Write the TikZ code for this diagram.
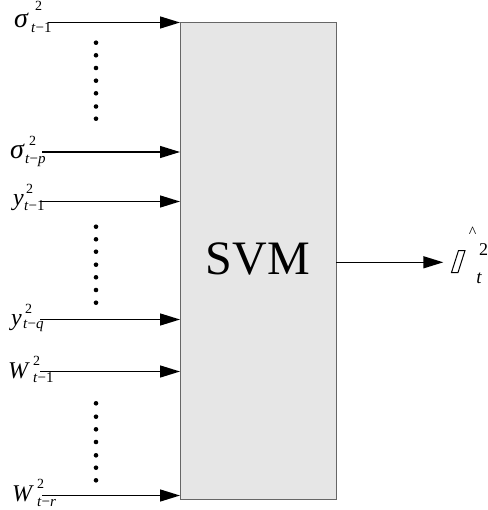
\documentclass[tikz,border=0pt]{standalone}
\usepackage{fontspec}
\setmainfont{Liberation Serif}
\usetikzlibrary{arrows.meta}
\definecolor{boxfill}{HTML}{E6E6E6}
\definecolor{boxline}{HTML}{666666}
% \lblx{main}{size}{sup offset}{sup raise}{sub offset}{sub lower}{sub}
\newcommand\lblx[7]{%
  \rlap{\fontsize{#2}{#2}\selectfont\itshape #1}%
  \rlap{\kern#3pt\raisebox{#4pt}{\fontsize{14}{14}\selectfont 2}}%
  \kern#5pt\raisebox{-#6pt}{\fontsize{15}{15}\selectfont #7}}
\tikzset{
  arr/.style={line width=1.4pt, -{Triangle[length=20pt,width=12pt]}},
  lbl/.style={anchor=base west, inner sep=0pt},
  dotmark/.style={circle, fill=black, inner sep=0pt, minimum size=4.6pt},
  svmbox/.style={draw=boxline, fill=boxfill, line width=1pt, inner sep=0pt},
  small/.style={inner sep=0pt, font=\fontsize{15}{15}\selectfont}
}
\begin{document}
\begin{tikzpicture}[x=1pt,y=-1pt]
\useasboundingbox (0,0) rectangle (487,510);
% SVM box
\node[svmbox, minimum width=156pt, minimum height=477pt, anchor=north west] (svm) at (180,22) {};
\node[inner sep=0pt, font=\fontsize{48}{48}\selectfont] (svmtext) at (258,259) {SVM};
% input labels
\node[lbl] (l1) at (14,28) {\lblx{σ}{28}{21}{17}{17}{4.5}{\textit{t}−1}};
\node[lbl] (l2) at (10,159) {\lblx{σ}{28}{19}{13}{15}{4.5}{\textit{t}−\textit{p}}};
\node[lbl] (l3) at (13,206) {\lblx{y}{24}{13}{12}{11}{5}{\textit{t}−1}};
\node[lbl] (l4) at (11,325) {\lblx{y}{24}{14}{11.5}{12}{3}{\textit{t}−\textit{q}}};
\node[lbl] (l5) at (8,378) {\lblx{W}{24}{25}{13}{25}{4.5}{\textit{t}−1}};
\node[lbl] (l6) at (12,501.5) {\lblx{W}{24}{25}{13}{25}{4.5}{\textit{t}−\textit{r}}};
% arrow starts
\coordinate (s1) at (48,22.5);
\coordinate (s2) at (42,152);
\coordinate (s3) at (40,201.5);
\coordinate (s4) at (40,319.5);
\coordinate (s5) at (40,371.5);
\coordinate (s6) at (42,495.5);
\foreach \s in {s1,s2,s3,s4,s5,s6}
  \draw[arr] (\s) -- (\s -| svm.west);
% dots
\foreach \y [count=\i] in {42.7,55.3,68,80.7,93.3,106.5,118.7}
  \node[dotmark] (da\i) at (96,\y) {};
\foreach \y [count=\i] in {226.7,239.3,251.7,264.7,277.3,290,302.7}
  \node[dotmark] (db\i) at (96,\y) {};
\foreach \y [count=\i] in {403.3,416.7,429.3,442,455.3,467.7,480.3}
  \node[dotmark] (dc\i) at (96,\y) {};
% output
\coordinate (o0) at (336,262.3);
\node[inner sep=0pt, minimum width=15pt, minimum height=23pt] (out) at (458,261.5) {};
\draw[line width=1pt] (458.5,250.5) -- (465,250.5) -- (458,272.5) -- (451.5,272.5) -- cycle;
\draw[arr] (o0) -- ([xshift=-7pt]out.west |- o0);
\node[small] (hat) at (472.5,232) {\fontsize{16}{16}\selectfont\^{}};
\node[small, font=\fontsize{18}{18}\selectfont] (two) at (483.5,250) {2};
\node[small, font=\fontsize{19}{19}\selectfont] (tt) at (479,278) {\itshape t};
\end{tikzpicture}
\end{document}
